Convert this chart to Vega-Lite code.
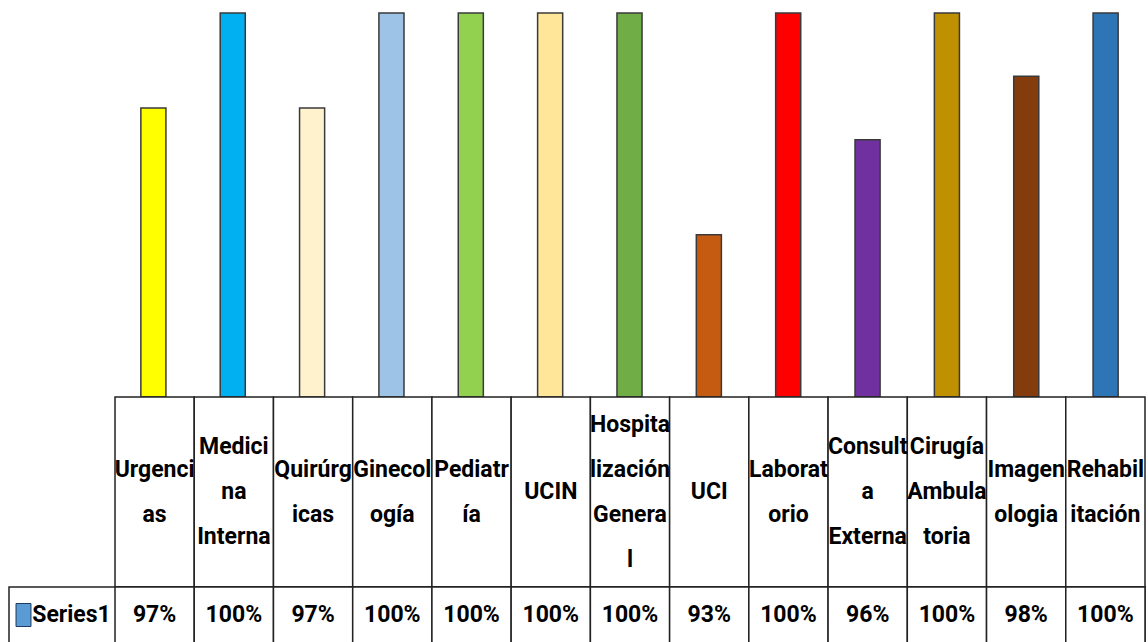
{
  "$schema": "https://vega.github.io/schema/vega-lite/v6.json",
  "padding": {"left": 8, "top": 0, "right": 0, "bottom": 0},
  "background": "white",
  "config": {"view": {"stroke": null}, "text": {"font": "Roboto", "fontSize": 23, "fontWeight": "bold", "color": "black", "baseline": "middle", "lineHeight": 45}},
  "datasets": {
    "d": [
      {"area": "Urgencias", "lines": ["Urgenci", "as"], "pct": 0.97},
      {"area": "Medicina Interna", "lines": ["Medici", "na", "Interna"], "pct": 1.0},
      {"area": "Quirúrgicas", "lines": ["Quirúrg", "icas"], "pct": 0.97},
      {"area": "Ginecología", "lines": ["Ginecol", "ogía"], "pct": 1.0},
      {"area": "Pediatría", "lines": ["Pediatr", "ía"], "pct": 1.0},
      {"area": "UCIN", "lines": ["UCIN"], "pct": 1.0},
      {"area": "Hospitalización General", "lines": ["Hospita", "lización", "Genera", "l"], "pct": 1.0},
      {"area": "UCI", "lines": ["UCI"], "pct": 0.93},
      {"area": "Laboratorio", "lines": ["Laborat", "orio"], "pct": 1.0},
      {"area": "Consulta Externa", "lines": ["Consult", "a", "Externa"], "pct": 0.96},
      {"area": "Cirugía Ambulatoria", "lines": ["Cirugía", "Ambula", "toria"], "pct": 1.0},
      {"area": "Imagenologia", "lines": ["Imagen", "ologia"], "pct": 0.98},
      {"area": "Rehabilitación", "lines": ["Rehabil", "itación"], "pct": 1.0}
    ]
  },
  "spacing": 0,
  "bounds": "flush",
  "resolve": {"scale": {"x": "independent", "y": "independent", "color": "independent"}},
  "vconcat": [
    {
      "width": 1136,
      "height": 397,
      "data": {"name": "d"},
      "mark": {"type": "bar", "stroke": "#3a3a3a", "strokeWidth": 1.5},
      "encoding": {
        "x": {"field": "area", "type": "nominal", "sort": null, "axis": null, "scale": {"paddingInner": 0.684, "paddingOuter": 1.011, "align": 0.8308}},
        "y": {"field": "pct", "type": "quantitative", "axis": null, "scale": {"domain": [0.8788, 1.0041], "nice": false, "zero": false}},
        "y2": {"datum": 0.8788},
        "color": {
          "field": "area", "type": "nominal", "sort": null, "legend": null,
          "scale": {
            "domain": ["Urgencias", "Medicina Interna", "Quirúrgicas", "Ginecología", "Pediatría", "UCIN", "Hospitalización General", "UCI", "Laboratorio", "Consulta Externa", "Cirugía Ambulatoria", "Imagenologia", "Rehabilitación"],
            "range": ["#FFFF00", "#00B0F0", "#FFF2CC", "#9DC3E6", "#92D050", "#FFE699", "#70AD47", "#C55A11", "#FF0000", "#7030A0", "#BF9000", "#843C0C", "#2E75B6"]
          }
        }
      }
    },
    {
      "width": 1136,
      "height": 190,
      "data": {"name": "d"},
      "encoding": {"x": {"field": "area", "type": "nominal", "sort": null, "axis": null, "scale": {"paddingInner": 0, "paddingOuter": 0.669, "align": 1}}},
      "layer": [
        {"mark": {"type": "rect", "fill": "white", "stroke": "#222", "strokeWidth": 1.5}},
        {
          "transform": [{"filter": "length(datum.lines) == 1"}],
          "mark": {"type": "text"},
          "encoding": {"text": {"field": "lines", "type": "nominal"}}
        },
        {
          "transform": [{"filter": "length(datum.lines) == 2"}],
          "mark": {"type": "text", "dy": -22.5},
          "encoding": {"text": {"field": "lines", "type": "nominal"}}
        },
        {
          "transform": [{"filter": "length(datum.lines) == 3"}],
          "mark": {"type": "text", "dy": -45},
          "encoding": {"text": {"field": "lines", "type": "nominal"}}
        },
        {
          "transform": [{"filter": "length(datum.lines) == 4"}],
          "mark": {"type": "text", "dy": -67.5},
          "encoding": {"text": {"field": "lines", "type": "nominal"}}
        }
      ]
    },
    {
      "width": 1136,
      "height": 56,
      "layer": [
        {
          "data": {"values": [{"s": "Series1"}]},
          "layer": [
            {"mark": {"type": "rect", "fill": "white", "stroke": "#222", "strokeWidth": 1.5}, "encoding": {}},
            {
              "mark": {"type": "point", "shape": "M-0.65,-1L0.65,-1L0.65,1L-0.65,1Z", "size": 529, "filled": true, "fill": "#5B9BD5", "stroke": "#1f3a5a", "strokeWidth": 1, "opacity": 1, "xOffset": -553.5},
              "encoding": {}
            },
            {
              "mark": {"type": "text", "dx": -505.5},
              "encoding": {"text": {"field": "s", "type": "nominal"}}
            }
          ]
        },
        {
          "data": {"name": "d"},
          "encoding": {"x": {"field": "area", "type": "nominal", "sort": null, "axis": null, "scale": {"paddingInner": 0, "paddingOuter": 0.669, "align": 1}}},
          "layer": [
            {"mark": {"type": "rect", "fill": "white", "stroke": "#222", "strokeWidth": 1.5}},
            {
              "mark": {"type": "text"},
              "encoding": {"text": {"field": "pct", "type": "quantitative", "format": ".0%"}}
            }
          ]
        }
      ]
    }
  ]
}
